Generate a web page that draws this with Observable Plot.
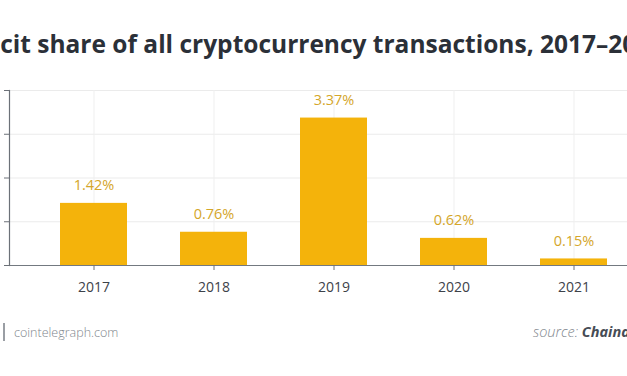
<!DOCTYPE html>
<html>
<head>
<meta charset="utf-8">
<script src="https://cdn.jsdelivr.net/npm/d3@7"></script>
<script src="https://cdn.jsdelivr.net/npm/@observablehq/plot@0.6"></script>
<style>
  html, body { margin: 0; padding: 0; background: #ffffff; }
  body { width: 627px; height: 376px; overflow: hidden; position: relative; font-family: "Open Sans", sans-serif; }
  #title { position: absolute; left: -197px; width: 1028px; top: 32px; text-align: center; white-space: nowrap;
           font-size: 24.5px; font-weight: 700; color: #2b3038; line-height: 1; }
  #chart { position: absolute; left: -31px; top: 60px; width: 690px; }
  #chart svg { max-width: none; }
  #sep { position: absolute; left: 3px; top: 323px; width: 1.5px; height: 18px; background: #9a9ea4; }
  #site { position: absolute; left: 14px; top: 324px; font-size: 12.5px; font-weight: 300; color: #80868d; white-space: nowrap; }
  #source { position: absolute; left: 533px; top: 322px; font-size: 14.5px; font-style: italic; white-space: nowrap; color: #80868d; font-weight: 300; }
  #source b { color: #464c55; font-weight: 700; }
</style>
</head>
<body>
<div id="title">Illicit share of all cryptocurrency transactions, 2017–2021</div>
<div id="chart"></div>
<div id="sep"></div>
<div id="site">cointelegraph.com</div>
<div id="source">source: <b>Chainalysis</b></div>
<script>
const years = ["2017", "2018", "2019", "2020", "2021"];
const shares = [1.42, 0.76, 3.37, 0.62, 0.15];
const yTicks = [0, 1, 2, 3, 4];

const data = years.map((year, i) => ({year, value: shares[i]}));

const chart = Plot.plot({
  width: 690,
  height: 245,
  marginLeft: 40,
  marginRight: 1,
  marginTop: 30,
  marginBottom: 40,
  style: { fontFamily: "Open Sans, sans-serif", fontSize: "14px", color: "#444", background: "transparent", overflow: "visible", maxWidth: "none" },
  x: { type: "band", domain: years, paddingInner: 0.444, paddingOuter: 0.414, label: null },
  y: { domain: [0, 4], label: null },
  marks: [
    Plot.gridY({ ticks: [1, 2, 3, 4], stroke: "#ebebeb", strokeOpacity: 1 }),
    Plot.gridX({ stroke: "#efefef", strokeOpacity: 1 }),
    Plot.barY(data, { x: "year", y: "value", fill: "#f4b30b" }),
    Plot.text(data, { x: "year", y: "value", text: d => d.value.toFixed(2) + "%", dy: -18, fill: "#d4a62a", fontSize: 14.5 }),
    Plot.ruleY([0], { stroke: "#737980", strokeWidth: 1.2 }),
    Plot.frame({ anchor: "left", stroke: "#6c7178", strokeWidth: 1.2 }),
    Plot.axisY({ ticks: yTicks, tickSize: 5, tickFormat: () => "", stroke: "#6c7178", label: null }),
    Plot.axisX({ tickSize: 5, tickPadding: 12, fontSize: 14, stroke: "#6c7178", fill: "#3d4249", label: null })
  ]
});
document.getElementById("chart").appendChild(chart);
</script>
</body>
</html>
